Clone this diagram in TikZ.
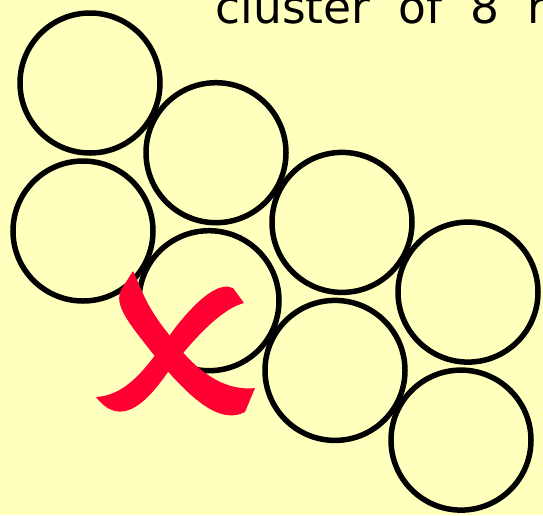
\documentclass[tikz,border=0pt]{standalone}
\usepackage{fontspec}
\usepackage{tikz}
\definecolor{paperYellow}{RGB}{255,255,190}
\definecolor{crossRed}{RGB}{255,0,51}
\newfontfamily\headfont[WordSpace=1.95]{DejaVu Sans}

\begin{document}
\begin{tikzpicture}[x=1pt,y=-1pt,
  grain/.style={circle,draw=black,line width=5.5pt,minimum size=140pt,inner sep=0pt}]
\useasboundingbox (0,0) rectangle (543,515);
\fill[paperYellow] (0,0) rectangle (543,515);
\clip (0,0) rectangle (543,515);
\node[anchor=base west,inner sep=0pt,font={\headfont\fontsize{45.5}{52}\selectfont}] (title) at (215.5,23) {cluster of 8 r};
% upper row
\node[grain] (g1) at (90,83) {};
\node[grain] (g2) at (216,152.7) {};
\node[grain] (g3) at (342,222.4) {};
\node[grain] (g4) at (468,292.1) {};
% lower row
\node[grain] (g5) at (83,231) {};
\node[grain] (g6) at (209,300.7) {};
\node[grain] (g7) at (335,370.4) {};
\node[grain] (g8) at (461,440.1) {};
% the cross
\fill[crossRed] (133,271) .. controls (140,285) and (145,305) .. (167,332)
  .. controls (190,365) and (220,392) .. (255,388) -- (245,412)
  .. controls (220,425) and (190,400) .. (150,350)
  .. controls (128,322) and (114,305) .. (121,290) -- cycle;
\fill[crossRed] (96,397) .. controls (130,395) and (150,362) .. (175,328)
  .. controls (200,296) and (220,282) .. (233,288) -- (244,303)
  .. controls (225,308) and (200,330) .. (168,372)
  .. controls (145,405) and (120,428) .. cycle;
\end{tikzpicture}
\end{document}
